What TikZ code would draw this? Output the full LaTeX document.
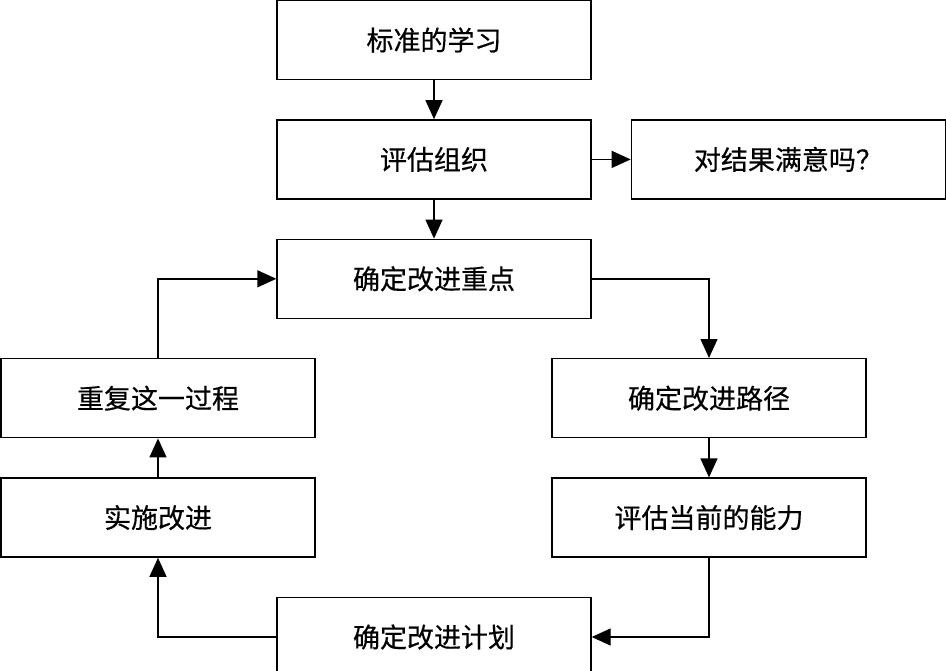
\documentclass[tikz,border=0pt]{standalone}
\usepackage{fontspec}
\newfontfamily\cjk[FakeBold=0.4]{Noto Sans CJK SC}
\usepackage{tikz}
\usetikzlibrary{arrows.meta,positioning}

\begin{document}
\begin{tikzpicture}[x=1pt, y=1pt, node distance=39pt, every node/.style={draw, line width=1.4pt, minimum width=314pt, minimum height=79pt, inner sep=0pt, font=\cjk\fontsize{27}{32}\selectfont}, >={Triangle[length=19pt,width=17pt]}, line width=1.4pt]
\useasboundingbox (0,0) rectangle (946,-670);
\node (std) at (434,-40) {标准的学习};
\node[below=of std] (eval) {评估组织};
\node[right=of eval] (sat) {对结果满意吗？};
\node[below=of eval] (focus) {确定改进重点};
\node[below=of focus, xshift=275pt] (path) {确定改进路径};
\node[below=of path] (ability) {评估当前的能力};
\node[below=of ability, xshift=-275pt] (plan) {确定改进计划};
\node[below=of focus, xshift=-276pt] (repeat) {重复这一过程};
\node[below=of repeat] (impl) {实施改进};
\draw[->] (std) -- (eval);
\draw[->] (eval) -- (sat);
\draw[->] (eval) -- (focus);
\draw[->] (focus) -| (path);
\draw[->] (path) -- (ability);
\draw[->] (ability) |- (plan);
\draw[->] (plan) -| (impl);
\draw[->] (impl) -- (repeat);
\draw[->] (repeat) |- (focus);
\end{tikzpicture}
\end{document}
